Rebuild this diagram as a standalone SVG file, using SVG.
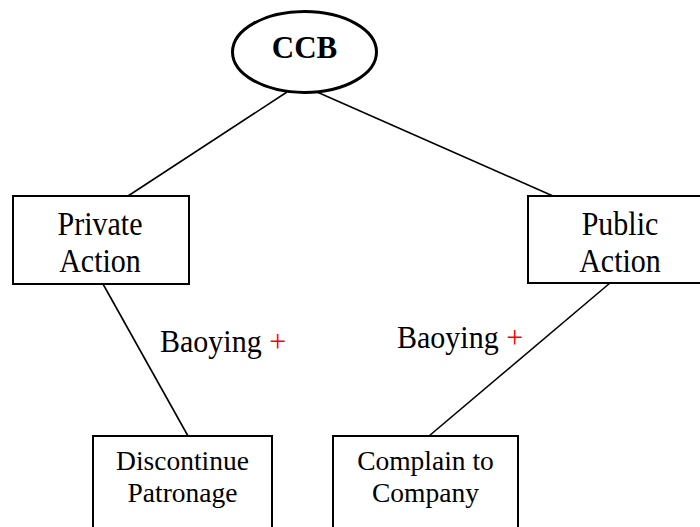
<svg xmlns="http://www.w3.org/2000/svg" width="700" height="527" viewBox="0 0 700 527">
  <style>
    .box { fill: #fff; stroke: #000; stroke-width: 2; }
    .oval { fill: #fff; stroke: #000; stroke-width: 3; }
    .edge { stroke: #000; stroke-width: 1.6; fill: none; }
    text { font-family: "Liberation Serif", "Times New Roman", serif; fill: #000; text-anchor: middle; }
    .big { font-size: 30px; }
    .small { font-size: 27.5px; }
    .root { font-size: 31px; font-weight: bold; }
    .lbl { font-size: 30px; text-anchor: start; }
    .plus { fill: #ff0000; }
  </style>
  <rect width="700" height="527" fill="#fff"/>

  <g id="connectors">
    <line class="edge" x1="287" y1="92" x2="128" y2="196"/>
    <line class="edge" x1="317" y1="92" x2="553" y2="196"/>
    <line class="edge" x1="103" y1="284" x2="188" y2="436"/>
    <line class="edge" x1="610" y1="283" x2="429" y2="436"/>
  </g>

  <g id="ccb">
    <ellipse class="oval" cx="304.5" cy="52" rx="72" ry="40.5"/>
    <text class="root" transform="translate(304.5,58) scale(1,1.05)">CCB</text>
  </g>

  <g id="private-action">
    <rect class="box" x="13" y="196" width="176" height="88"/>
    <text class="big" transform="translate(100,235) scale(1,1.1)">Private</text>
    <text class="big" transform="translate(100,272) scale(1,1.1)">Action</text>
  </g>

  <g id="public-action">
    <rect class="box" x="528" y="196" width="186" height="87"/>
    <text class="big" transform="translate(620,235) scale(1,1.1)">Public</text>
    <text class="big" transform="translate(620,272) scale(1,1.1)">Action</text>
  </g>

  <g id="discontinue-patronage">
    <rect class="box" x="93" y="436" width="179" height="100"/>
    <text class="small" x="182.5" y="470">Discontinue</text>
    <text class="small" x="182.5" y="502">Patronage</text>
  </g>

  <g id="complain-to-company">
    <rect class="box" x="333" y="436" width="185" height="100"/>
    <text class="small" x="425.5" y="470">Complain to</text>
    <text class="small" x="425.5" y="502">Company</text>
  </g>

  <g id="labels">
    <text class="lbl" transform="translate(160,352) scale(1,1.08)">Baoying <tspan class="plus">+</tspan></text>
    <text class="lbl" transform="translate(397,348) scale(1,1.08)">Baoying <tspan class="plus">+</tspan></text>
  </g>
</svg>
